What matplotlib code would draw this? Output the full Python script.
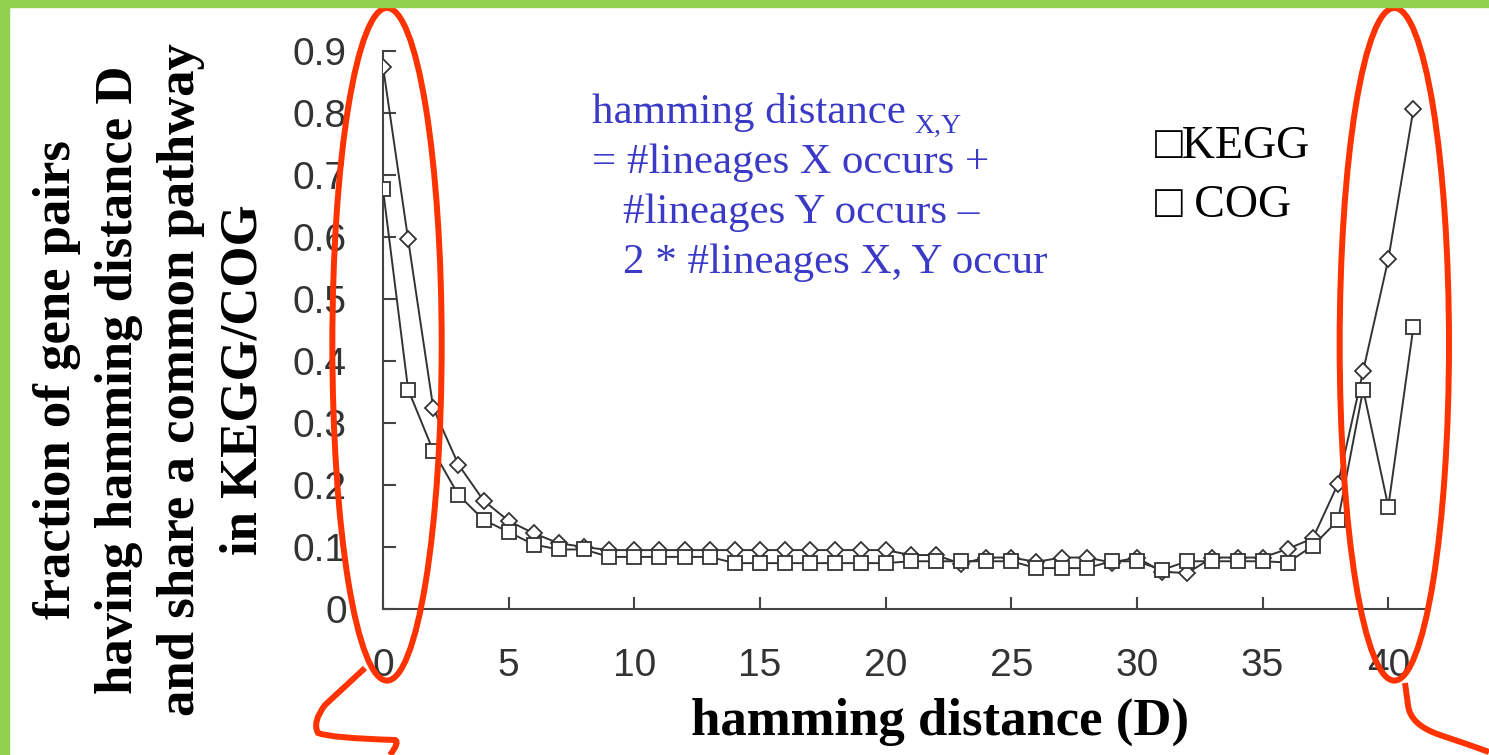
import numpy as np
import matplotlib.pyplot as plt
from matplotlib.patches import Ellipse, Rectangle, PathPatch
from matplotlib.path import Path

W, H = 1489, 755

distance = list(range(42))
kegg = [0.875, 0.596, 0.324, 0.233, 0.175, 0.142, 0.122, 0.106, 0.100, 0.095,
        0.095, 0.095, 0.095, 0.095, 0.095, 0.095, 0.095, 0.095, 0.095, 0.095,
        0.095, 0.087, 0.087, 0.073, 0.083, 0.083, 0.076, 0.083, 0.083, 0.075,
        0.083, 0.060, 0.058, 0.083, 0.083, 0.083, 0.097, 0.114, 0.202, 0.384,
        0.564, 0.806]
cog = [0.677, 0.354, 0.255, 0.184, 0.144, 0.124, 0.104, 0.096, 0.096, 0.084,
       0.084, 0.084, 0.084, 0.084, 0.074, 0.074, 0.074, 0.074, 0.074, 0.074,
       0.074, 0.077, 0.077, 0.077, 0.077, 0.077, 0.066, 0.066, 0.066, 0.077,
       0.077, 0.063, 0.077, 0.077, 0.077, 0.077, 0.075, 0.102, 0.143, 0.354,
       0.165, 0.455]
yticks = [0, 0.1, 0.2, 0.3, 0.4, 0.5, 0.6, 0.7, 0.8, 0.9]
ytick_labels = ['0', '0.1', '0.2', '0.3', '0.4', '0.5', '0.6', '0.7', '0.8', '0.9']
xticks = [0, 5, 10, 15, 20, 25, 30, 35, 40]

serif = ['Liberation Serif', 'DejaVu Serif']
blue = '#3a3ac6'
red = '#ff3300'
green = '#92d050'


def fp(x, y):
    # figure pixel -> figure fraction
    return x / W, 1 - y / H


fig = plt.figure(figsize=(W / 100, H / 100), dpi=100)
fig.patch.set_facecolor('white')

# green slide borders
fig.patches.append(Rectangle((0, 1 - 7 / H), 1, 7 / H, transform=fig.transFigure,
                             color=green, zorder=0))
fig.patches.append(Rectangle((0, 0), 9 / W, 1, transform=fig.transFigure,
                             color=green, zorder=0))

ax = fig.add_axes([383 / W, (H - 609) / H, 1043 / W, 558 / H])
ax.set_facecolor('none')

ax.plot(distance, kegg, '-', color='#333333', lw=1.4, marker='D', ms=8.5,
        mfc='white', mec='#333333', mew=1.3, zorder=3)
ax.plot(distance, cog, '-', color='#333333', lw=1.4, marker='s', ms=10,
        mfc='white', mec='#333333', mew=1.3, zorder=3)

ax.set_xlim(0, 41.5)
ax.set_ylim(0, 0.9)
ax.set_xticks(xticks)
ax.set_yticks(yticks)
ax.set_yticklabels(ytick_labels)
for s in ['top', 'right']:
    ax.spines[s].set_visible(False)
for s in ['left', 'bottom']:
    ax.spines[s].set_color('#444444')
    ax.spines[s].set_linewidth(1.5)
ax.tick_params(axis='both', direction='in', length=9, width=1.5, color='#444444',
               labelsize=28, labelcolor='#333333')
ax.tick_params(axis='y', pad=26)
ax.tick_params(axis='x', pad=28)
for lab in ax.get_xticklabels() + ax.get_yticklabels():
    lab.set_family(['Liberation Sans', 'DejaVu Sans'])

ax.set_xlabel('hamming distance (D)', fontsize=38, fontweight='bold',
              family=serif, va='center')
ax.xaxis.set_label_coords((940 - 383) / 1043, (609 - 722) / 558)
ax.set_ylabel('fraction of gene pairs\nhaving hamming distance D\n'
              'and share a common pathway\nin KEGG/COG',
              fontsize=38, fontweight='bold', family=serif, va='center',
              linespacing=1.38)
ax.yaxis.set_label_coords((150 - 383) / 1043, (609 - 380) / 558)

# definition text
fig.text(*fp(592, 123), 'hamming distance', fontsize=31, color=blue,
         family=serif, va='baseline')
fig.text(*fp(914, 133), 'X,Y', fontsize=20, color=blue, family=serif,
         va='baseline')
fig.text(*fp(592, 173), '= #lineages X occurs +', fontsize=31, color=blue,
         family=serif, va='baseline')
fig.text(*fp(623, 223), '#lineages Y occurs \u2013', fontsize=31, color=blue,
         family=serif, va='baseline')
fig.text(*fp(623, 273), '2 * #lineages X, Y occur', fontsize=31, color=blue,
         family=serif, va='baseline')

# legend-like text
fig.text(*fp(1155, 158), '\u25a1KEGG', fontsize=33, color='black',
         family=serif, va='baseline')
fig.text(*fp(1155, 217), '\u25a1 COG', fontsize=33, color='black',
         family=serif, va='baseline')

# red highlight ellipses
for cx in [0.16, 40.24]:
    ax.add_patch(Ellipse((cx, 0.427), 4.35, 1.085, fill=False, ec=red, lw=4.3,
                         clip_on=False, zorder=5))

# callout curves below the ellipses
left = [(365, 668), (325, 705), (312, 722), (318, 733), (330, 738),
        (395, 740), (400, 742), (390, 755)]
left_codes = [Path.MOVETO, Path.LINETO, Path.CURVE3, Path.CURVE3,
              Path.CURVE3, Path.CURVE3, Path.CURVE3, Path.CURVE3]
right = [(1405, 683), (1408, 705), (1410, 725), (1440, 735), (1470, 745),
         (1489, 752)]
right_codes = [Path.MOVETO, Path.LINETO, Path.CURVE3, Path.CURVE3,
               Path.CURVE3, Path.CURVE3]
for pts, codes in [(left, left_codes), (right, right_codes)]:
    verts = [fp(x, y) for x, y in pts]
    fig.patches.append(PathPatch(Path(verts, codes), transform=fig.transFigure,
                                 fill=False, ec=red, lw=4.3, zorder=5))

fig.savefig('out.png', dpi=100)
